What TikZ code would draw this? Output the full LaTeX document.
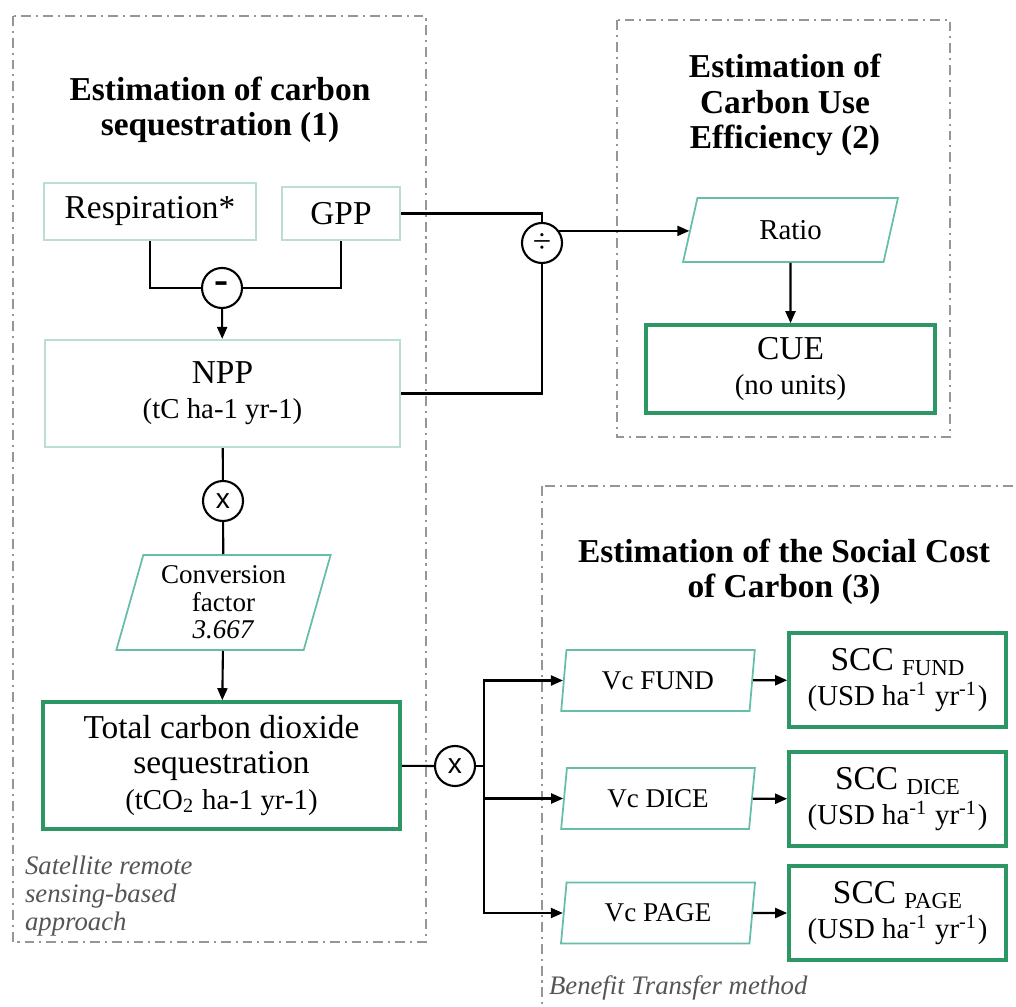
\documentclass[tikz,border=0pt]{standalone}
\usepackage{fontspec}
\setmainfont{Liberation Serif}
\setsansfont{Liberation Sans}
\usetikzlibrary{
  arrows.meta,      % 三角箭头
  shapes.geometric  % 平行四边形（trapezium）
}

\definecolor{palegreen}{RGB}{186,222,210}
\definecolor{tealline}{RGB}{102,190,170}
\definecolor{deepgreen}{RGB}{44,150,100}
\definecolor{framegray}{RGB}{150,150,150}
\definecolor{notegray}{RGB}{85,85,85}

\newcommand{\mainfont}{\fontsize{9.5}{10}\selectfont}
\newcommand{\unitfont}{\fontsize{8.2}{9.4}\selectfont}
\newcommand{\subfont}{\fontsize{6.5}{7}\selectfont}

\begin{document}
\begin{tikzpicture}[x=0.01cm, y=-0.01cm, line width=0.6pt,
    >={Triangle[length=1.2mm, width=1mm]},
    plainbox/.style={draw=palegreen, inner sep=0pt, align=center, font=\mainfont},
    resultbox/.style={draw=deepgreen, line width=1pt, inner sep=0pt, align=center, font=\mainfont},
    factor/.style={trapezium, trapezium stretches=true, draw=tealline, line width=0.5pt,
      inner sep=0pt, align=center, font=\fontsize{7.7}{7.8}\selectfont},
    operator/.style={circle, draw, minimum size=0.4cm, inner sep=0pt, font=\mainfont},
    frame/.style={draw=framegray, line width=0.7pt,
      dash pattern=on 2.8pt off 1.4pt on 0.6pt off 1.4pt},
    heading/.style={align=center, font=\bfseries\mainfont},
    remark/.style={align=left, inner sep=0pt, text=notegray, font=\itshape\fontsize{7.6}{8}\selectfont}]

    % 画布范围
    \useasboundingbox (0,0) rectangle (1016,1007);
    \clip (0,0) rectangle (1016,1007);

    % 三个虚线分区
    \draw[frame] (13,16) rectangle (426,942);
    \draw[frame] (617,20) rectangle (950,437);
    \draw[frame] (542,486) rectangle (1040,1030);

    % 分区标题
    \node[heading] (title1) at (220,110) {Estimation of carbon\\sequestration (1)};
    \node[heading] (title2) at (785,105) {Estimation of\\Carbon Use\\Efficiency (2)};
    \node[heading] (title3) at (784,572) {Estimation of the Social Cost\\of Carbon (3)};

    % 分区 (1)
    \node[plainbox, minimum width=2.12cm, minimum height=0.57cm] (resp) at (150,211.5) {Respiration*};
    \node[plainbox, minimum width=1.18cm, minimum height=0.53cm] (gpp) at (341,213.5) {GPP};
    \node[operator, font=\bfseries\fontsize{12}{12}\selectfont] (minus) at (222,288) {-};
    \node[plainbox, minimum width=3.55cm, minimum height=1.07cm] (npp) at (222.5,393.5)
      {NPP\\{\unitfont (tC ha-1 yr-1)}};
    \node[operator, font=\sffamily\fontsize{8}{8}\selectfont] (times1) at (223,501) {x};
    \node[factor, trapezium left angle=74, trapezium right angle=106,
      minimum width=2.15cm, minimum height=0.95cm] (conv) at (223.5,602.5)
      {Conversion\\factor\\\textit{3.667}};
    \node[resultbox, minimum width=3.57cm, minimum height=1.27cm] (total) at (221.5,765.5)
      {Total carbon dioxide\\sequestration\\{\unitfont (tCO\textsubscript{2} ha-1 yr-1)}};

    % 分区 (2)
    \node[operator] (div) at (542,243) {÷};
    \node[factor, trapezium left angle=76, trapezium right angle=104,
      minimum width=2.15cm, minimum height=0.64cm, font=\unitfont] (ratio) at (790.5,230) {Ratio};
    \node[resultbox, minimum width=2.89cm, minimum height=0.88cm] (cue) at (790.5,369)
      {CUE\\{\unitfont (no units)}};

    % 分区 (3)
    \node[operator, font=\sffamily\fontsize{8}{8}\selectfont] (times2) at (455,766) {x};
    \coordinate (trunk) at (484,766);
    \node[factor, trapezium left angle=80, trapezium right angle=100,
      minimum width=1.94cm, minimum height=0.61cm] (vcfund) at (658,680.5) {Vc FUND};
    \node[factor, trapezium left angle=80, trapezium right angle=100,
      minimum width=1.94cm, minimum height=0.61cm] (vcdice) at (658,798.5) {Vc DICE};
    \node[factor, trapezium left angle=80, trapezium right angle=100,
      minimum width=1.94cm, minimum height=0.61cm] (vcpage) at (658,913) {Vc PAGE};
    \node[resultbox, minimum width=2.17cm, minimum height=0.94cm] (sccfund) at (897.5,680)
      {SCC \raisebox{-0.35ex}{\subfont FUND}\\{\unitfont (USD ha\textsuperscript{-1} yr\textsuperscript{-1})}};
    \node[resultbox, minimum width=2.17cm, minimum height=0.94cm] (sccdice) at (897.5,799)
      {SCC \raisebox{-0.35ex}{\subfont DICE}\\{\unitfont (USD ha\textsuperscript{-1} yr\textsuperscript{-1})}};
    \node[resultbox, minimum width=2.17cm, minimum height=0.94cm] (sccpage) at (897.5,913)
      {SCC \raisebox{-0.35ex}{\subfont PAGE}\\{\unitfont (USD ha\textsuperscript{-1} yr\textsuperscript{-1})}};

    % 连线
    \draw (resp.south) |- (minus.west);
    \draw (gpp.south) |- (minus.east);
    \draw[->] (minus) -- (npp);
    \draw (gpp.east) -| (div.north);
    \draw (npp.east) -| (div.south);
    \draw[->] (div.35) -- (div.35 -| ratio.west);
    \draw[->] (ratio) -- (cue);
    \draw (npp) -- (times1);
    \draw (times1) -- (conv);
    \draw[->] (conv) -- (total);
    \draw (total) -- (times2);
    \draw (times2) -- (trunk);
    \draw[->] (trunk) |- (vcfund);
    \draw[->] (trunk) |- (vcdice);
    \draw[->] (trunk) |- (vcpage);
    \draw[->] (vcfund) -- (sccfund);
    \draw[->] (vcdice) -- (sccdice);
    \draw[->] (vcpage) -- (sccpage);

    % 方法说明
    \node[remark, anchor=west] (satnote) at (24,896) {Satellite remote\\sensing-based\\approach};
    \node[remark, anchor=west] (btnote) at (548,988) {Benefit Transfer method};
  \end{tikzpicture}
\end{document}
